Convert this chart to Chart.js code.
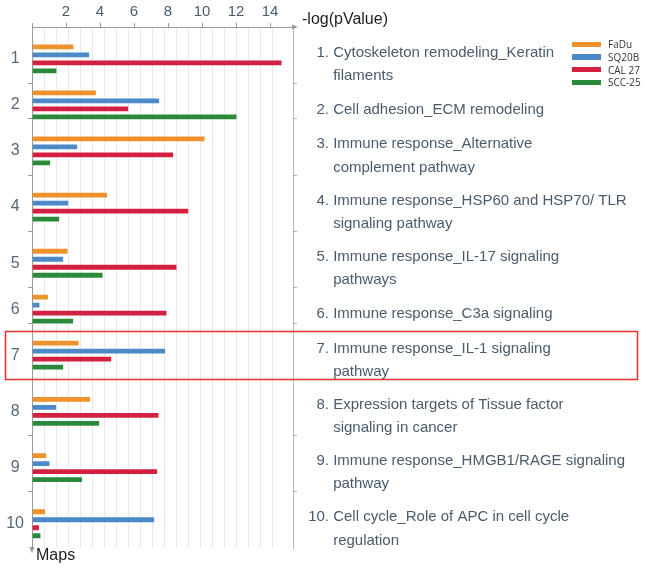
<!DOCTYPE html>
<html>
<head>
<meta charset="utf-8">
<script src="https://cdn.jsdelivr.net/npm/chart.js@4.4.1/dist/chart.umd.min.js"></script>
<style>
  body { margin: 0; background: #fff; }
  #wrap { position: relative; width: 650px; height: 568px; }
  #legend { position: absolute; left: 572px; top: 38px; font: 10px 'Open Sans', sans-serif; color: #333; }
  #legend div { height: 12.7px; display: flex; align-items: center; white-space: nowrap; }
  #legend .sw { display: inline-block; width: 29px; height: 5.5px; margin-right: 7px; }
</style>
</head>
<body>
<div id="wrap"><canvas id="mapsChart"></canvas><div id="legend"></div></div>
<script>
const pathways = [
  ['Cytoskeleton remodeling_Keratin', 'filaments'],
  ['Cell adhesion_ECM remodeling'],
  ['Immune response_Alternative', 'complement pathway'],
  ['Immune response_HSP60 and HSP70/ TLR', 'signaling pathway'],
  ['Immune response_IL-17 signaling', 'pathways'],
  ['Immune response_C3a signaling'],
  ['Immune response_IL-1 signaling', 'pathway'],
  ['Expression targets of Tissue factor', 'signaling in cancer'],
  ['Immune response_HMGB1/RAGE signaling', 'pathway'],
  ['Cell cycle_Role of APC in cell cycle', 'regulation']
];
const seriesNames = ['FaDu', 'SQ20B', 'CAL 27', 'SCC-25'];
const fadu  = [2.45, 3.76, 10.16, 4.41, 2.10, 0.94, 2.75, 3.41, 0.84, 0.78];
const sq20b = [3.37, 7.49, 2.67, 2.14, 1.84, 0.45, 7.84, 1.43, 1.04, 7.18];
const cal27 = [14.69, 5.67, 8.31, 9.20, 8.51, 7.92, 4.67, 7.45, 7.37, 0.41];
const scc25 = [1.45, 12.04, 1.08, 1.61, 4.16, 2.43, 1.84, 3.96, 2.94, 0.51];
const xTicks = [2, 4, 6, 8, 10, 12, 14];
const xMax = 15.35;
const highlighted = 7; // boxed pathway

const colors = ['#f0922b', '#4b89c8', '#d42040', '#2a8a3a'];
const textColor = '#4a5b6b';

// each pathway gets a band of small category slots, taller when its name wraps
const slots = [];
const groupStart = [];
const groupMid = [];
pathways.forEach((lines, i) => {
  const n = lines.length > 1 ? 22 : 14;
  groupStart.push(slots.length);
  groupMid.push(slots.length + n / 2);
  for (let k = 0; k < n; k++) slots.push(`p${i + 1}_${k}`);
});
const numSlot = i => groupMid[i] + 1;
const barSlot = i => slots[groupMid[i] + 1];
const textSlot = i => groupMid[i] + 3;

function pathwayLabel(i) {
  const num = (i + 1) + '. ';
  const pad = i + 1 < 10 ? '   ' : ' ';
  const lines = pathways[i];
  return [pad + num + lines[0]].concat(lines.slice(1).map(l => '       ' + l));
}

const boundaryColor = (c, col) => (groupStart.indexOf(c.index) > 0 ? col : 'rgba(0,0,0,0)');

const axisDecor = {
  id: 'axisDecor',
  afterDraw(chart) {
    const { ctx, chartArea: a, scales: { y } } = chart;
    ctx.save();
    ctx.fillStyle = '#999';
    // arrow heads on the axes
    ctx.beginPath();
    ctx.moveTo(a.right + 5, a.top);
    ctx.lineTo(a.right - 1, a.top - 2.5);
    ctx.lineTo(a.right - 1, a.top + 2.5);
    ctx.fill();
    ctx.beginPath();
    ctx.moveTo(a.left, a.bottom + 5);
    ctx.lineTo(a.left - 2.5, a.bottom - 1);
    ctx.lineTo(a.left + 2.5, a.bottom - 1);
    ctx.fill();
    ctx.fillStyle = '#1e1e1e';
    ctx.textBaseline = 'middle';
    ctx.textAlign = 'left';
    ctx.font = "16px 'Liberation Sans', Arial, sans-serif";
    ctx.fillText('-log(pValue)', a.right + 9, 20);
    ctx.fillText('Maps', a.left + 4, a.bottom + 8);
    // highlight box
    const mid = Math.round(y.getPixelForValue(groupMid[highlighted - 1] + 1));
    ctx.strokeStyle = '#e03a3a';
    ctx.lineWidth = 1.6;
    ctx.strokeRect(5.5, mid - 23.5, 632, 48);
    ctx.restore();
  }
};

const datasets = [fadu, sq20b, cal27, scc25].map((vals, s) => ({
  label: seriesNames[s],
  data: vals.map((v, i) => ({ x: v, y: barSlot(i) })),
  backgroundColor: colors[s],
  borderColor: 'rgba(0,0,0,0)',
  borderWidth: { top: 1.6, bottom: 1.6, left: 0, right: 0 },
  barThickness: 8,
  inflateAmount: 0,
  xAxisID: 'x',
  yAxisID: 'y'
}));

const chart = new Chart(document.getElementById('mapsChart'), {
  type: 'bar',
  data: { labels: slots, datasets },
  options: {
    indexAxis: 'y',
    responsive: true,
    maintainAspectRatio: false,
    animation: false,
    events: [],
    layout: { padding: 0 },
    plugins: { legend: { display: false }, tooltip: { enabled: false } },
    scales: {
      x: {
        position: 'top',
        min: 0,
        max: xMax,
        afterFit: s => { s.height = 27; },
        border: { color: '#9a9a9a' },
        grid: {
          drawOnChartArea: false,
          tickLength: 4,
          color: c => (c.tick && (c.tick.value === 0 || xTicks.includes(c.tick.value)) ? '#9a9a9a' : 'rgba(0,0,0,0)')
        },
        ticks: {
          stepSize: 2,
          includeBounds: false,
          autoSkip: false,
          maxRotation: 0,
          padding: 2,
          color: textColor,
          font: { family: "'Liberation Sans', Arial, sans-serif", size: 15 },
          callback: v => (xTicks.includes(v) ? v : '')
        }
      },
      xg: {
        type: 'linear',
        position: 'bottom',
        min: 0,
        max: xMax,
        afterFit: s => { s.height = 20; },
        border: { display: false },
        grid: { color: '#e8e8e8', drawTicks: false },
        ticks: { display: false, stepSize: 0.707, maxTicksLimit: 40 }
      },
      y: {
        type: 'category',
        position: 'left',
        bounds: 'ticks',
        afterFit: s => { s.width = 32; },
        border: { color: '#9a9a9a' },
        grid: { offset: true, drawOnChartArea: false, tickLength: 4, color: c => boundaryColor(c, '#9a9a9a') },
        ticks: {
          autoSkip: false,
          padding: 4,
          crossAlign: 'center',
          color: '#56677a',
          font: { family: "'Liberation Sans', Arial, sans-serif", size: 16 },
          callback: (v, i) => {
            const g = groupMid.findIndex((m, k) => numSlot(k) === i);
            return g >= 0 ? String(g + 1) : '';
          }
        }
      },
      y2: {
        type: 'category',
        position: 'right',
        bounds: 'ticks',
        afterFit: s => { s.width = 357; },
        border: { color: '#b8b8b8' },
        grid: { offset: true, drawOnChartArea: false, tickLength: 4, color: c => boundaryColor(c, '#b0b0b0') },
        ticks: {
          autoSkip: false,
          padding: 7,
          crossAlign: 'near',
          color: textColor,
          font: { family: "'Liberation Sans', Arial, sans-serif", size: 15, lineHeight: 1.55 },
          callback: (v, i) => {
            const g = groupMid.findIndex((m, k) => textSlot(k) === i);
            return g >= 0 ? pathwayLabel(g) : '';
          }
        }
      }
    }
  },
  plugins: [axisDecor]
});

// legend built from the datasets
const legend = document.getElementById('legend');
chart.data.datasets.forEach(ds => {
  const row = document.createElement('div');
  row.innerHTML = `<span class="sw" style="background:${ds.backgroundColor}"></span>${ds.label}`;
  legend.appendChild(row);
});
</script>
</body>
</html>
